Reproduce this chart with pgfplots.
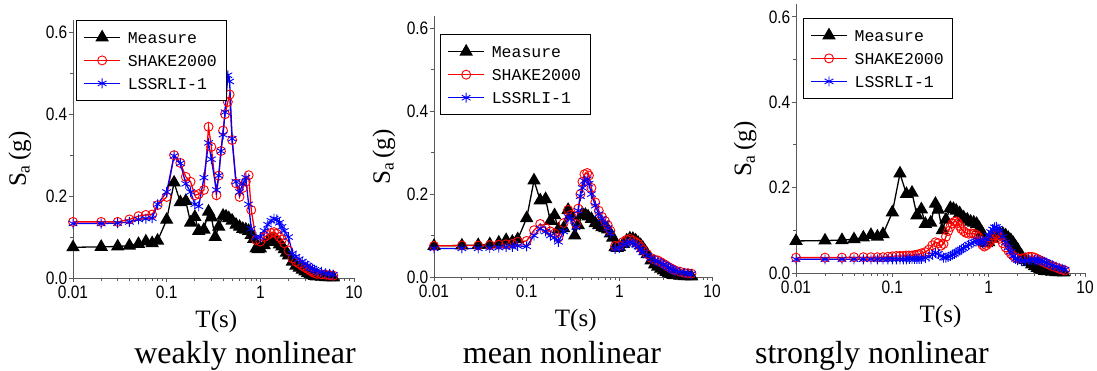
\documentclass[border=0pt]{standalone}
\usepackage{fontspec}
\setmainfont{Liberation Serif}
\newfontfamily\tickfont[FakeStretch=0.86]{Liberation Sans}
\newfontfamily\legfont[Scale=1.65]{Liberation Mono}
\newfontfamily\labfont{Liberation Serif}
\usepackage{pgfplots}
\usepackage{pgfplotstable}
\pgfplotsset{compat=1.18}

\pgfplotstableread{
T v
0.01 0.075
0.02 0.076
0.03 0.077
0.04 0.079
0.05 0.083
0.06 0.089
0.07 0.085
0.08 0.091
0.10 0.142
0.12 0.233
0.14 0.185
0.16 0.188
0.18 0.135
0.20 0.149
0.22 0.115
0.25 0.118
0.28 0.162
0.30 0.148
0.33 0.100
0.36 0.125
0.40 0.152
0.43 0.150
0.46 0.146
0.50 0.140
0.55 0.130
0.60 0.125
0.65 0.120
0.70 0.118
0.75 0.115
0.80 0.105
0.85 0.095
0.90 0.072
0.95 0.070
1.0 0.072
1.1 0.080
1.2 0.088
1.3 0.093
1.4 0.092
1.5 0.088
1.6 0.082
1.7 0.077
1.8 0.070
1.9 0.062
2.0 0.055
2.2 0.040
2.4 0.030
2.6 0.025
2.8 0.020
3.0 0.016
3.2 0.012
3.4 0.009
3.6 0.007
3.8 0.005
4.0 0.004
4.5 0.003
5.0 0.002
5.5 0.002
6.0 0.001
}\tabmeas

\pgfplotstableread{
T v
0.01 0.137
0.02 0.137
0.03 0.137
0.04 0.143
0.05 0.151
0.06 0.154
0.07 0.155
0.08 0.178
0.10 0.198
0.12 0.300
0.14 0.281
0.16 0.247
0.18 0.235
0.20 0.202
0.22 0.205
0.25 0.215
0.28 0.369
0.30 0.320
0.34 0.202
0.36 0.250
0.38 0.310
0.40 0.360
0.42 0.400
0.45 0.430
0.47 0.448
0.50 0.337
0.55 0.231
0.60 0.198
0.65 0.220
0.70 0.235
0.75 0.251
0.80 0.166
0.90 0.093
1.0 0.089
1.1 0.100
1.2 0.105
1.3 0.110
1.4 0.112
1.5 0.108
1.6 0.100
1.7 0.094
1.8 0.085
2.0 0.067
2.2 0.048
2.4 0.040
2.6 0.035
2.8 0.030
3.0 0.026
3.2 0.022
3.4 0.018
3.6 0.015
3.8 0.012
4.0 0.010
4.5 0.009
5.0 0.008
5.5 0.007
6.0 0.006
}\redA

\pgfplotstableread{
T v
0.01 0.133
0.02 0.133
0.03 0.134
0.04 0.137
0.05 0.143
0.06 0.145
0.07 0.146
0.08 0.180
0.10 0.210
0.12 0.298
0.14 0.280
0.16 0.230
0.18 0.210
0.20 0.180
0.22 0.175
0.25 0.245
0.28 0.330
0.30 0.290
0.34 0.215
0.36 0.250
0.38 0.310
0.40 0.350
0.42 0.405
0.45 0.495
0.47 0.480
0.50 0.340
0.55 0.235
0.60 0.210
0.65 0.230
0.70 0.245
0.75 0.180
0.80 0.120
0.90 0.100
1.0 0.100
1.1 0.115
1.2 0.130
1.3 0.140
1.4 0.145
1.5 0.143
1.6 0.135
1.7 0.125
1.8 0.115
2.0 0.100
2.2 0.060
2.4 0.052
2.6 0.046
2.8 0.040
3.0 0.035
3.2 0.030
3.4 0.026
3.6 0.023
3.8 0.020
4.0 0.018
4.5 0.015
5.0 0.012
5.5 0.010
6.0 0.008
}\blueA

\pgfplotstableread{
T v
0.01 0.075
0.02 0.076
0.03 0.076
0.04 0.077
0.05 0.078
0.06 0.079
0.07 0.080
0.08 0.085
0.10 0.087
0.12 0.113
0.14 0.128
0.16 0.118
0.18 0.110
0.20 0.105
0.22 0.095
0.25 0.130
0.28 0.162
0.30 0.150
0.34 0.128
0.36 0.165
0.38 0.200
0.40 0.230
0.42 0.248
0.45 0.251
0.47 0.245
0.50 0.215
0.55 0.180
0.60 0.160
0.65 0.145
0.70 0.135
0.75 0.125
0.80 0.112
0.90 0.075
1.0 0.076
1.1 0.085
1.2 0.090
1.3 0.092
1.4 0.088
1.5 0.084
1.6 0.080
1.7 0.072
1.8 0.065
2.0 0.055
2.2 0.046
2.4 0.042
2.6 0.040
2.8 0.036
3.0 0.032
3.2 0.028
3.4 0.024
3.6 0.021
3.8 0.018
4.0 0.016
4.5 0.013
5.0 0.010
5.5 0.009
6.0 0.008
}\redB

\pgfplotstableread{
T v
0.01 0.069
0.02 0.069
0.03 0.069
0.04 0.070
0.05 0.071
0.06 0.072
0.07 0.073
0.08 0.075
0.10 0.074
0.12 0.100
0.14 0.117
0.16 0.110
0.18 0.100
0.20 0.095
0.22 0.085
0.25 0.110
0.28 0.145
0.30 0.140
0.34 0.120
0.36 0.160
0.38 0.195
0.40 0.215
0.42 0.232
0.45 0.236
0.47 0.225
0.50 0.200
0.55 0.172
0.60 0.152
0.65 0.140
0.70 0.130
0.75 0.118
0.80 0.105
0.90 0.068
1.0 0.070
1.1 0.078
1.2 0.082
1.3 0.084
1.4 0.082
1.5 0.078
1.6 0.073
1.7 0.066
1.8 0.060
2.0 0.052
2.2 0.045
2.4 0.040
2.6 0.038
2.8 0.034
3.0 0.030
3.2 0.027
3.4 0.023
3.6 0.020
3.8 0.017
4.0 0.015
4.5 0.012
5.0 0.010
5.5 0.008
6.0 0.007
}\blueB

\pgfplotstableread{
T v
0.01 0.036
0.02 0.036
0.03 0.036
0.04 0.037
0.05 0.037
0.06 0.037
0.07 0.037
0.08 0.037
0.09 0.038
0.10 0.039
0.11 0.040
0.12 0.040
0.13 0.040
0.14 0.041
0.15 0.041
0.16 0.041
0.17 0.042
0.18 0.043
0.19 0.044
0.20 0.046
0.22 0.049
0.24 0.055
0.26 0.065
0.28 0.072
0.30 0.070
0.32 0.064
0.34 0.068
0.36 0.085
0.38 0.098
0.40 0.108
0.42 0.116
0.44 0.120
0.46 0.121
0.48 0.117
0.50 0.110
0.52 0.103
0.55 0.098
0.58 0.094
0.62 0.092
0.66 0.093
0.70 0.092
0.74 0.090
0.78 0.085
0.82 0.075
0.86 0.066
0.90 0.062
0.95 0.065
1.00 0.070
1.05 0.076
1.10 0.082
1.15 0.088
1.20 0.091
1.25 0.088
1.30 0.080
1.40 0.070
1.50 0.060
1.60 0.052
1.70 0.045
1.80 0.040
1.90 0.036
2.00 0.034
2.20 0.034
2.40 0.036
2.60 0.038
2.80 0.038
3.00 0.036
3.20 0.033
3.40 0.030
3.60 0.027
3.80 0.025
4.00 0.022
4.30 0.019
4.60 0.016
5.00 0.013
5.40 0.010
5.80 0.008
6.20 0.006
}\redC

\pgfplotstableread{
T v
0.01 0.032
0.02 0.032
0.03 0.032
0.04 0.032
0.05 0.032
0.06 0.032
0.07 0.032
0.08 0.032
0.09 0.032
0.10 0.032
0.11 0.032
0.12 0.032
0.13 0.032
0.14 0.032
0.15 0.033
0.16 0.033
0.17 0.033
0.18 0.033
0.19 0.033
0.20 0.033
0.22 0.035
0.24 0.038
0.26 0.043
0.28 0.047
0.30 0.045
0.32 0.040
0.34 0.036
0.36 0.036
0.38 0.038
0.40 0.040
0.42 0.043
0.44 0.045
0.46 0.048
0.48 0.050
0.50 0.053
0.52 0.055
0.55 0.058
0.58 0.062
0.62 0.066
0.66 0.069
0.70 0.072
0.74 0.074
0.78 0.076
0.82 0.074
0.86 0.070
0.90 0.072
0.95 0.080
1.00 0.088
1.05 0.096
1.10 0.102
1.15 0.107
1.20 0.108
1.25 0.104
1.30 0.098
1.40 0.085
1.50 0.072
1.60 0.060
1.70 0.050
1.80 0.040
1.90 0.033
2.00 0.030
2.20 0.028
2.40 0.028
2.60 0.030
2.80 0.031
3.00 0.031
3.20 0.030
3.40 0.029
3.60 0.028
3.80 0.026
4.00 0.024
4.30 0.021
4.60 0.018
5.00 0.015
5.40 0.012
5.80 0.010
6.20 0.008
}\blueC

\definecolor{axgray}{RGB}{90,90,90}
\newcommand{\lf}{\legfont}

\begin{document}
\begin{tikzpicture}
\path[use as bounding box] (0,0) rectangle (1097pt,371pt);

\begin{axis}[xmode=log, scale only axis, at={(73pt,93pt)}, anchor=south west, width=281pt, height=258pt,
    xmin=0.01, xmax=10, ymin=0, ymax=0.63,
    axis x line=bottom, axis y line=left,
    axis line style={-, draw=axgray, line width=0.9pt},
    tick align=outside,
    xtick={0.01,0.1,1,10}, xticklabels={0.01,0.1,1,10},
    ytick={0,0.2,0.4,0.6}, yticklabels={0.0,0.2,0.4,0.6},
    minor ytick={0.1,0.3,0.5},
    major tick length=4.5pt, minor tick length=2.8pt,
    tick style={axgray, line width=0.9pt},
    ticklabel style={font=\tickfont\fontsize{18}{18}\selectfont},
    yticklabel style={inner xsep=1pt},
    xlabel={T(s)},
    ylabel={S\textsubscript{a}\hspace{4pt}(g)},
    label style={font=\labfont\fontsize{25}{25}\selectfont},
    xlabel style={at={(axis description cs:0.51,0)}, anchor=center, yshift=-43pt},
    ylabel style={at={(axis description cs:-0.189,0.46)}, anchor=center},
    legend cell align=left,
    legend image code/.code={\draw[mark repeat=2,mark phase=2] plot coordinates {(0pt,0pt) (18pt,0pt) (36pt,0pt)};},
    legend style={draw=black, line width=0.8pt, fill=white, anchor=north west,
      inner xsep=7pt, inner ysep=9pt, row sep=7pt,
      nodes={inner sep=2pt, text height=12pt, text depth=0pt},
      /tikz/every odd column/.append style={column sep=5pt},
      at={(axis description cs:0.011,1.0)}},
  ]
\addplot[black, line width=1.3pt, mark=triangle*, mark size=6.5pt] table[x=T,y=v] {\tabmeas};
\addlegendentry{\lf Measure}
\addplot[red, line width=1.3pt, mark=o, mark size=4.5pt, mark options={line width=0.9pt}] table[x=T,y=v] {\redA};
\addlegendentry{\lf SHAKE2000}
\addplot[blue, line width=1.3pt, mark=asterisk, mark size=5pt, mark options={line width=0.9pt}] table[x=T,y=v] {\blueA};
\addlegendentry{\lf LSSRLI-1}
\end{axis}

\begin{axis}[xmode=log, scale only axis, at={(434pt,94pt)}, anchor=south west, width=278pt, height=261pt,
    xmin=0.01, xmax=10, ymin=0, ymax=0.63,
    axis x line=bottom, axis y line=left,
    axis line style={-, draw=axgray, line width=0.9pt},
    tick align=outside,
    xtick={0.01,0.1,1,10}, xticklabels={0.01,0.1,1,10},
    ytick={0,0.2,0.4,0.6}, yticklabels={0.0,0.2,0.4,0.6},
    minor ytick={0.1,0.3,0.5},
    major tick length=4.5pt, minor tick length=2.8pt,
    tick style={axgray, line width=0.9pt},
    ticklabel style={font=\tickfont\fontsize{18}{18}\selectfont},
    yticklabel style={inner xsep=1pt},
    xlabel={T(s)},
    ylabel={S\textsubscript{a}\hspace{4pt}(g)},
    label style={font=\labfont\fontsize{25}{25}\selectfont},
    xlabel style={at={(axis description cs:0.51,0)}, anchor=center, yshift=-43pt},
    ylabel style={at={(axis description cs:-0.18,0.46)}, anchor=center},
    legend cell align=left,
    legend image code/.code={\draw[mark repeat=2,mark phase=2] plot coordinates {(0pt,0pt) (18pt,0pt) (36pt,0pt)};},
    legend style={draw=black, line width=0.8pt, fill=white, anchor=north west,
      inner xsep=7pt, inner ysep=9pt, row sep=7pt,
      nodes={inner sep=2pt, text height=12pt, text depth=0pt},
      /tikz/every odd column/.append style={column sep=5pt},
      at={(axis description cs:0.022,0.93)}},
  ]
\addplot[black, line width=1.3pt, mark=triangle*, mark size=6.5pt] table[x=T,y=v] {\tabmeas};
\addlegendentry{\lf Measure}
\addplot[red, line width=1.3pt, mark=o, mark size=4.5pt, mark options={line width=0.9pt}] table[x=T,y=v] {\redB};
\addlegendentry{\lf SHAKE2000}
\addplot[blue, line width=1.3pt, mark=asterisk, mark size=5pt, mark options={line width=0.9pt}] table[x=T,y=v] {\blueB};
\addlegendentry{\lf LSSRLI-1}
\end{axis}

\begin{axis}[xmode=log, scale only axis, at={(796pt,98pt)}, anchor=south west, width=289pt, height=269pt,
    xmin=0.01, xmax=10, ymin=0, ymax=0.63,
    axis x line=bottom, axis y line=left,
    axis line style={-, draw=axgray, line width=0.9pt},
    tick align=outside,
    xtick={0.01,0.1,1,10}, xticklabels={0.01,0.1,1,10},
    ytick={0,0.2,0.4,0.6}, yticklabels={0.0,0.2,0.4,0.6},
    minor ytick={0.1,0.3,0.5},
    major tick length=4.5pt, minor tick length=2.8pt,
    tick style={axgray, line width=0.9pt},
    ticklabel style={font=\tickfont\fontsize{18}{18}\selectfont},
    yticklabel style={inner xsep=1pt},
    xlabel={T(s)},
    ylabel={S\textsubscript{a}\hspace{4pt}(g)},
    label style={font=\labfont\fontsize{25}{25}\selectfont},
    xlabel style={at={(axis description cs:0.5,0)}, anchor=center, yshift=-43pt},
    ylabel style={at={(axis description cs:-0.176,0.46)}, anchor=center},
    legend cell align=left,
    legend image code/.code={\draw[mark repeat=2,mark phase=2] plot coordinates {(0pt,0pt) (18pt,0pt) (36pt,0pt)};},
    legend style={draw=black, line width=0.8pt, fill=white, anchor=north west,
      inner xsep=7pt, inner ysep=9pt, row sep=7pt,
      nodes={inner sep=2pt, text height=12pt, text depth=0pt},
      /tikz/every odd column/.append style={column sep=5pt},
      at={(axis description cs:0.024,0.948)}},
  ]
\addplot[black, line width=1.3pt, mark=triangle*, mark size=6.5pt] table[x=T,y=v] {\tabmeas};
\addlegendentry{\lf Measure}
\addplot[red, line width=1.3pt, mark=o, mark size=4.5pt, mark options={line width=0.9pt}] table[x=T,y=v] {\redC};
\addlegendentry{\lf SHAKE2000}
\addplot[blue, line width=1.3pt, mark=asterisk, mark size=5pt, mark options={line width=0.9pt}] table[x=T,y=v] {\blueC};
\addlegendentry{\lf LSSRLI-1}
\end{axis}

\node[anchor=base, font=\fontsize{32}{32}\selectfont, inner sep=0pt] at (245pt,7pt) {weakly nonlinear};
\node[anchor=base, font=\fontsize{32}{32}\selectfont, inner sep=0pt] at (562pt,7pt) {mean nonlinear};
\node[anchor=base, font=\fontsize{32}{32}\selectfont, inner sep=0pt] at (872pt,7pt) {strongly nonlinear};
\end{tikzpicture}
\end{document}
